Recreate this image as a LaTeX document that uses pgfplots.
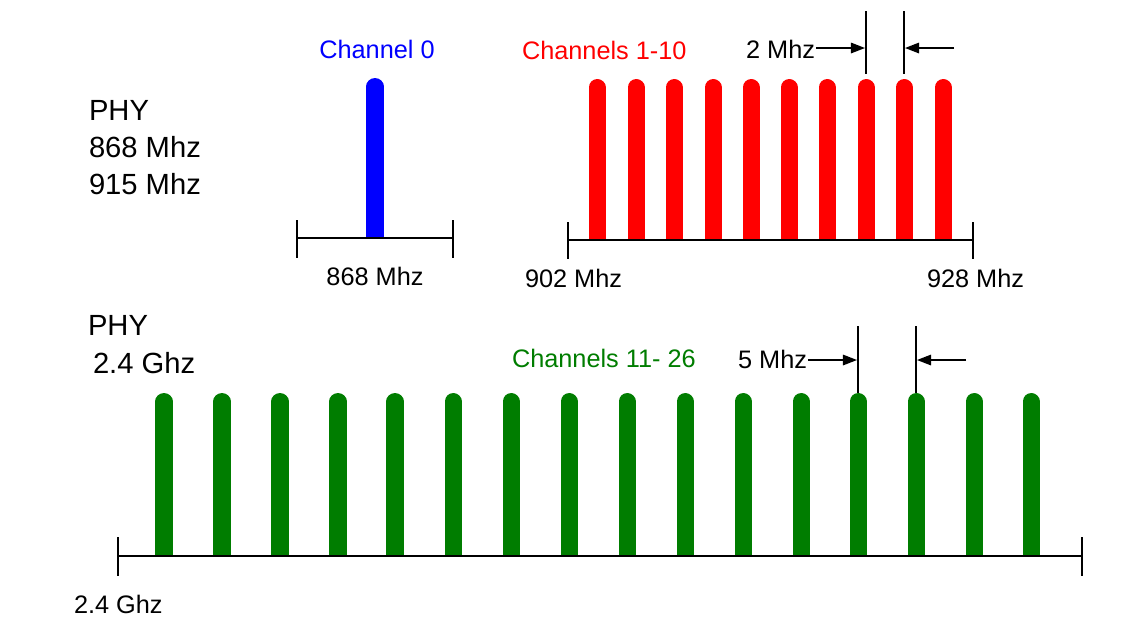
\documentclass[border=0pt]{standalone}
\usepackage{pgfplots}
\pgfplotsset{compat=1.18}
\usepackage{fontspec}
\setmainfont{Liberation Sans}
\usetikzlibrary{arrows.meta}
\definecolor{chblue}{RGB}{0,0,255}
\definecolor{chred}{RGB}{255,0,0}
\definecolor{chgreen}{RGB}{0,125,0}
\newcommand\fa{\fontsize{8.3pt}{10pt}\selectfont}
\newcommand\fb{\fontsize{7.2pt}{9pt}\selectfont}
\tikzset{lbl/.style={inner sep=0pt,outer sep=0pt}}
\begin{document}
\begin{tikzpicture}
\begin{axis}[width=11.43cm,height=6.22cm,scale only axis,
  xmin=0,xmax=1143,ymin=0,ymax=622,y dir=reverse,
  hide axis,clip=false,unbounded coords=jump,
  rbar/.style={line width=4.84pt,line cap=round,mark=none},
  fbar/.style={line width=4.84pt,line cap=butt,mark=none}]
\path (rel axis cs:0,0) rectangle (rel axis cs:1,1);
% channel 0 (rounded top part, then flat foot)
\addplot[chblue,rbar] coordinates {(375,86.5) (375,225)};
\addplot[chblue,fbar] coordinates {(375,220) (375,238)};
% channels 1-10
\addplot[chred,rbar] coordinates {
 (597,87.5) (597,225) (597,nan)
 (636,87.5) (636,225) (636,nan)
 (674,87.5) (674,225) (674,nan)
 (713,87.5) (713,225) (713,nan)
 (751,87.5) (751,225) (751,nan)
 (789,87.5) (789,225) (789,nan)
 (827,87.5) (827,225) (827,nan)
 (866,87.5) (866,225) (866,nan)
 (904,87.5) (904,225) (904,nan)
 (943,87.5) (943,225)};
\addplot[chred,fbar] coordinates {
 (597,220) (597,240) (597,nan)
 (636,220) (636,240) (636,nan)
 (674,220) (674,240) (674,nan)
 (713,220) (713,240) (713,nan)
 (751,220) (751,240) (751,nan)
 (789,220) (789,240) (789,nan)
 (827,220) (827,240) (827,nan)
 (866,220) (866,240) (866,nan)
 (904,220) (904,240) (904,nan)
 (943,220) (943,240)};
% channels 11-26
\addplot[chgreen,rbar] coordinates {
 (164,401.5) (164,540) (164,nan)
 (222,401.5) (222,540) (222,nan)
 (280,401.5) (280,540) (280,nan)
 (338,401.5) (338,540) (338,nan)
 (395,401.5) (395,540) (395,nan)
 (453,401.5) (453,540) (453,nan)
 (511,401.5) (511,540) (511,nan)
 (569,401.5) (569,540) (569,nan)
 (627,401.5) (627,540) (627,nan)
 (685,401.5) (685,540) (685,nan)
 (743,401.5) (743,540) (743,nan)
 (801,401.5) (801,540) (801,nan)
 (858,401.5) (858,540) (858,nan)
 (916,401.5) (916,540) (916,nan)
 (974,401.5) (974,540) (974,nan)
 (1031,401.5) (1031,540)};
\addplot[chgreen,fbar] coordinates {
 (164,535) (164,555) (164,nan)
 (222,535) (222,555) (222,nan)
 (280,535) (280,555) (280,nan)
 (338,535) (338,555) (338,nan)
 (395,535) (395,555) (395,nan)
 (453,535) (453,555) (453,nan)
 (511,535) (511,555) (511,nan)
 (569,535) (569,555) (569,nan)
 (627,535) (627,555) (627,nan)
 (685,535) (685,555) (685,nan)
 (743,535) (743,555) (743,nan)
 (801,535) (801,555) (801,nan)
 (858,535) (858,555) (858,nan)
 (916,535) (916,555) (916,nan)
 (974,535) (974,555) (974,nan)
 (1031,535) (1031,555)};
% baselines
\draw[line width=0.6pt] (axis cs:297,238) -- (axis cs:453,238);
\draw[line width=0.6pt] (axis cs:297,220) -- (axis cs:297,258);
\draw[line width=0.6pt] (axis cs:453,220) -- (axis cs:453,258);
\draw[line width=0.6pt] (axis cs:568,240) -- (axis cs:973,240);
\draw[line width=0.6pt] (axis cs:568,222) -- (axis cs:568,259);
\draw[line width=0.6pt] (axis cs:973,222) -- (axis cs:973,259);
\draw[line width=0.6pt] (axis cs:118,556) -- (axis cs:1082,556);
\draw[line width=0.6pt] (axis cs:118,537) -- (axis cs:118,576);
\draw[line width=0.6pt] (axis cs:1082,537) -- (axis cs:1082,576);
% spacing annotations
\draw[line width=0.55pt] (axis cs:866,11) -- (axis cs:866,74);
\draw[line width=0.55pt] (axis cs:904,11) -- (axis cs:904,74);
\draw[line width=0.4pt,-{Triangle[length=4pt,width=3pt]}] (axis cs:816,48) -- (axis cs:865,48);
\draw[line width=0.4pt,-{Triangle[length=4pt,width=3pt]}] (axis cs:954,48) -- (axis cs:905,48);
\draw[line width=0.55pt] (axis cs:858,326) -- (axis cs:858,393);
\draw[line width=0.55pt] (axis cs:916,326) -- (axis cs:916,393);
\draw[line width=0.4pt,-{Triangle[length=4pt,width=3pt]}] (axis cs:808,360) -- (axis cs:857,360);
\draw[line width=0.4pt,-{Triangle[length=4pt,width=3pt]}] (axis cs:966,360) -- (axis cs:917,360);
% texts
\node[lbl,anchor=base west] at (axis cs:89,120) {\fa PHY};
\node[lbl,anchor=base west] at (axis cs:89,157) {\fa 868 Mhz};
\node[lbl,anchor=base west] at (axis cs:89,194) {\fa 915 Mhz};
\node[lbl,anchor=base,text=chblue] at (axis cs:377,58) {\fb Channel 0};
\node[lbl,anchor=base] at (axis cs:375,285) {\fb 868 Mhz};
\node[lbl,anchor=base west,text=chred] at (axis cs:522,59) {\fb Channels 1-10};
\node[lbl,anchor=base east] at (axis cs:815,58) {\fb 2 Mhz};
\node[lbl,anchor=base west] at (axis cs:525,287) {\fb 902 Mhz};
\node[lbl,anchor=base west] at (axis cs:927,287) {\fb 928 Mhz};
\node[lbl,anchor=base west] at (axis cs:88,335) {\fa PHY};
\node[lbl,anchor=base west] at (axis cs:93,373) {\fa 2.4 Ghz};
\node[lbl,anchor=base west,text=chgreen] at (axis cs:512,367) {\fb Channels 11- 26};
\node[lbl,anchor=base east] at (axis cs:807,368) {\fb 5 Mhz};
\node[lbl,anchor=base west] at (axis cs:74,613) {\fb 2.4 Ghz};
\end{axis}
\end{tikzpicture}
\end{document}
